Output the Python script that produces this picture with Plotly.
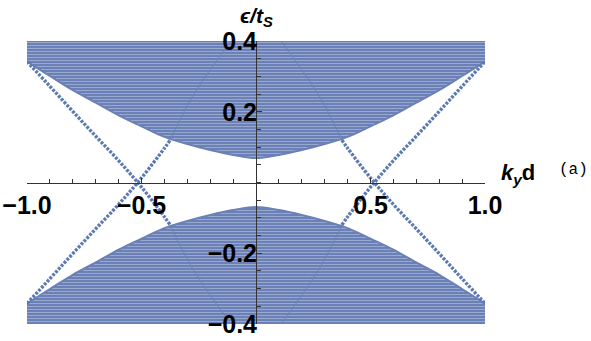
import plotly.graph_objects as go

# ---- data ----
K_BAND = [-1.0, -0.9, -0.8, -0.7, -0.6, -0.5, -0.4, -0.3, -0.2, -0.1, 0.0,
          0.1, 0.2, 0.3, 0.4, 0.5, 0.6, 0.7, 0.8, 0.9, 1.0]
# lower edge of the conduction (upper) bulk band
CB_EDGE = [0.342, 0.301, 0.261, 0.226, 0.190, 0.159, 0.129, 0.109, 0.092, 0.078, 0.069,
           0.078, 0.092, 0.109, 0.129, 0.159, 0.190, 0.226, 0.261, 0.301, 0.342]
# upper edge of the valence (lower) bulk band
VB_EDGE = [-0.342, -0.301, -0.261, -0.226, -0.190, -0.159, -0.129, -0.109, -0.092, -0.078, -0.069,
           -0.078, -0.092, -0.109, -0.129, -0.159, -0.190, -0.226, -0.261, -0.301, -0.342]

# edge states (in-gap dotted branches)
K_EDGE_L = [-1.0, -0.9, -0.8, -0.7, -0.6, -0.5, -0.4, -0.375]
E_EDGE_L_DOWN = [0.342, 0.272, 0.201, 0.131, 0.062, -0.013, -0.097, -0.120]
E_EDGE_L_UP = [-0.342, -0.272, -0.201, -0.131, -0.062, 0.013, 0.097, 0.120]
K_EDGE_R = [0.375, 0.4, 0.5, 0.6, 0.7, 0.8, 0.9, 1.0]
E_EDGE_R_DOWN = [0.120, 0.097, 0.013, -0.062, -0.131, -0.201, -0.272, -0.342]
E_EDGE_R_UP = [-0.120, -0.097, -0.013, 0.062, 0.131, 0.201, 0.272, 0.342]

# faint continuation of the edge states inside the bulk bands
K_GHOST_L = [-0.375, -0.33, -0.28, -0.22, -0.16, -0.11]
K_GHOST_R = [0.375, 0.33, 0.28, 0.22, 0.16, 0.11]
E_GHOST_UP = [0.12, 0.18, 0.24, 0.30, 0.355, 0.40]
E_GHOST_DN = [-0.12, -0.18, -0.24, -0.30, -0.355, -0.40]

X_RANGE = [-1.0, 1.0]
Y_RANGE = [-0.4, 0.4]
X_TICKS = [-1.0, -0.5, 0.5, 1.0]
X_TICK_TEXT = ["\u22121.0", "\u22120.5", "0.5", "1.0"]
Y_TICKS = [-0.4, -0.2, 0.2, 0.4]
Y_TICK_TEXT = ["\u22120.4", "\u22120.2", "0.2", "0.4"]

BAND_COLOR = "#6a80b6"
DOT_COLOR = "#5b79b2"
AXIS_COLOR = "#333333"

fig = go.Figure()

pattern = dict(shape="-", bgcolor=BAND_COLOR, fgcolor="white", fgopacity=0.35,
               size=3, solidity=0.3)

# upper bulk band: from its lower edge up to the top of the axis range
fig.add_trace(go.Scatter(
    x=K_BAND + [K_BAND[-1], K_BAND[0]],
    y=CB_EDGE + [Y_RANGE[1], Y_RANGE[1]],
    mode="lines", line=dict(width=0), fill="toself",
    fillcolor=BAND_COLOR, fillpattern=pattern, hoverinfo="skip"))
# lower bulk band
fig.add_trace(go.Scatter(
    x=K_BAND + [K_BAND[-1], K_BAND[0]],
    y=VB_EDGE + [Y_RANGE[0], Y_RANGE[0]],
    mode="lines", line=dict(width=0), fill="toself",
    fillcolor=BAND_COLOR, fillpattern=pattern, hoverinfo="skip"))
# smooth band edges
for ye in (CB_EDGE, VB_EDGE):
    fig.add_trace(go.Scatter(x=K_BAND, y=ye, mode="lines",
                             line=dict(color=BAND_COLOR, width=2, shape="spline"),
                             hoverinfo="skip"))

# ghost arcs inside the bulk
for kx, ey in ((K_GHOST_L, E_GHOST_UP), (K_GHOST_R, E_GHOST_UP),
               (K_GHOST_L, E_GHOST_DN), (K_GHOST_R, E_GHOST_DN)):
    fig.add_trace(go.Scatter(x=kx, y=ey, mode="lines",
                             line=dict(color=BAND_COLOR, width=1.5, shape="spline"),
                             opacity=0.6, hoverinfo="skip"))

# edge states
for kx, ey in ((K_EDGE_L, E_EDGE_L_DOWN), (K_EDGE_L, E_EDGE_L_UP),
               (K_EDGE_R, E_EDGE_R_DOWN), (K_EDGE_R, E_EDGE_R_UP)):
    fig.add_trace(go.Scatter(x=kx, y=ey, mode="lines",
                             line=dict(color=DOT_COLOR, width=3.4, shape="spline",
                                       dash="2.8px,1.4px"),
                             hoverinfo="skip"))

tick_font = dict(family="Liberation Sans", size=25, color="black", weight="bold")

fig.update_layout(
    template="none",
    width=591, height=341,
    margin=dict(l=27, r=106, t=41, b=17, pad=0),
    plot_bgcolor="white", paper_bgcolor="white",
    showlegend=False,
    hovermode=False,
    xaxis=dict(range=X_RANGE, anchor="free", position=0.5, automargin=False,
               showgrid=False, zeroline=False,
               showline=True, linecolor=AXIS_COLOR, linewidth=1,
               ticks="inside", ticklen=5, tickwidth=1, tickcolor=AXIS_COLOR,
               tickmode="array", tickvals=X_TICKS, ticktext=X_TICK_TEXT,
               tickfont=tick_font, ticklabeloverflow="allow",
               minor=dict(ticks="inside", ticklen=4, tickwidth=1, tickcolor=AXIS_COLOR,
                          tickmode="linear", tick0=0, dtick=0.1, showgrid=False)),
    yaxis=dict(range=Y_RANGE, anchor="free", position=0.5, automargin=False,
               showgrid=False, zeroline=False,
               showline=True, linecolor=AXIS_COLOR, linewidth=1,
               ticks="inside", ticklen=5, tickwidth=1, tickcolor=AXIS_COLOR,
               tickmode="array", tickvals=Y_TICKS, ticktext=Y_TICK_TEXT,
               tickfont=tick_font, ticklabelstandoff=-6, ticklabeloverflow="allow",
               minor=dict(ticks="inside", ticklen=4, tickwidth=1, tickcolor=AXIS_COLOR,
                          tickmode="linear", tick0=0, dtick=0.05, showgrid=False)),
    annotations=[
        dict(text="<b><i>\u03f5/t<sub>S</sub></i></b>", xref="x", yref="paper",
             x=0, y=1.085, xanchor="center", yanchor="middle", showarrow=False,
             font=dict(family="Liberation Sans", size=21, color="black")),
        dict(text="<b><i>k</i><sub><i>y</i></sub>d</b>", xref="paper", yref="paper",
             x=1.072, y=0.53, xanchor="center", yanchor="middle", showarrow=False,
             font=dict(family="Liberation Sans", size=22, color="black")),
        dict(text="(a)", xref="paper", yref="paper",
             x=1.194, y=0.545, xanchor="center", yanchor="middle", showarrow=False,
             font=dict(family="Liberation Mono", size=16, color="black")),
    ],
)

# remove the browser's default 8px page margin so the figure sits at the window origin
fig.write_html("out.html", config={"displayModeBar": False},
               post_script="document.body.style.margin='0px';")
